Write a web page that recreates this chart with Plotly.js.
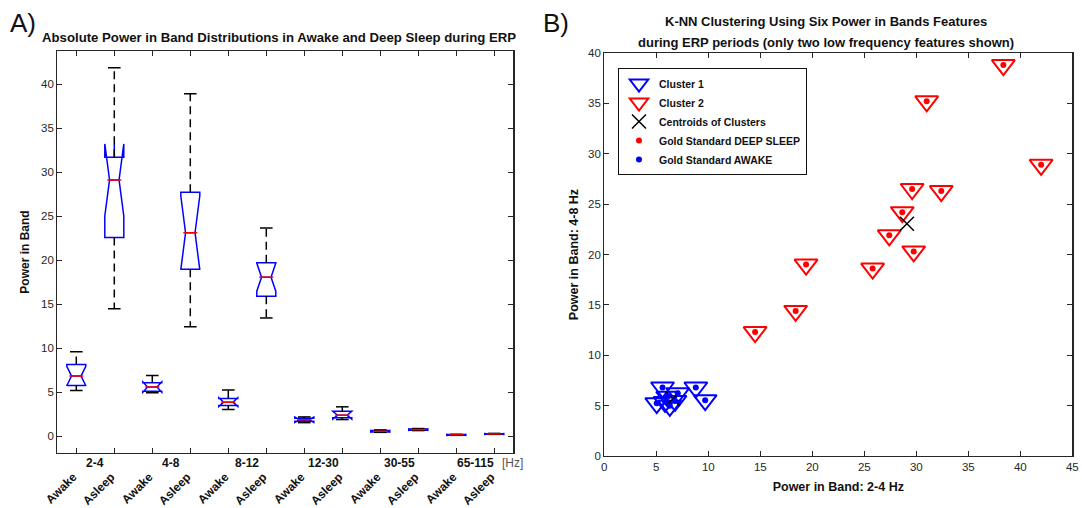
<!DOCTYPE html>
<html><head><meta charset="utf-8">
<script src="https://cdn.plot.ly/plotly-3.0.1.min.js"></script>
<style>html,body{margin:0;padding:0;background:#fff}#plot{width:1082px;height:508px}</style>
</head><body><div id="plot"></div>
<script>
// ---- Panel A data: box statistics per category ----
const bands = ['2-4', '4-8', '8-12', '12-30', '30-55', '65-115'];
const states = ['Awake', 'Asleep'];
const q1 =        [5.78, 22.6, 5.13, 19.0, 3.50, 15.92, 1.70, 2.10, 0.50, 0.70, 0.13, 0.24];
const medians =   [6.84, 29.14, 5.59, 23.14, 3.88, 18.09, 1.88, 2.40, 0.57, 0.76, 0.16, 0.27];
const q3 =        [8.17, 31.72, 6.08, 27.74, 4.30, 19.72, 2.05, 2.85, 0.65, 0.82, 0.19, 0.30];
const lowerWhisk =[5.21, 14.5, 4.94, 12.46, 3.04, 13.45, 1.55, 1.90, 0.45, 0.65, 0.11, 0.22];
const upperWhisk =[9.62, 41.9, 6.92, 38.94, 5.25, 23.67, 2.20, 3.35, 0.72, 0.88, 0.22, 0.33];
const notchSpan = [1.1, 4.1, 0.6, 4.2, 0.5, 1.6, 0.3, 0.45, 0.1, 0.08, 0.05, 0.05];

// ---- Panel B data ----
const awakeX = [5.6, 8.8, 7.06, 9.7, 5.04, 5.84, 6.3, 6.8, 6.1];
const awakeY = [6.8, 6.8, 6.24, 5.54, 5.24, 5.37, 4.98, 5.47, 5.87];
const sleepX = [38.37, 31.0, 42.0, 29.6, 32.4, 28.65, 27.4, 29.75, 19.4, 25.8, 14.5, 18.4];
const sleepY = [38.8, 35.2, 28.9, 26.5, 26.3, 24.2, 21.9, 20.3, 19.0, 18.6, 12.3, 14.4];
const centroidX = [6.6, 29.1];
const centroidY = [5.67, 23.05];

const W = 1082, H = 508;
const px = v => v / W, py = v => 1 - v / H;
const FONT = 'Liberation Sans, Arial, Helvetica, sans-serif';
const AX = '#262626';

const positions = q1.map((_, i) => i + 1);
const tickText = [];
bands.forEach(() => states.forEach(s => tickText.push(s)));

const wx = [], wy = [], capX = [], capY = [];
positions.forEach((p, i) => {
  wx.push(p, p, null, p, p, null);
  wy.push(q3[i], upperWhisk[i], null, q1[i], lowerWhisk[i], null);
  capX.push(p, p); capY.push(upperWhisk[i], lowerWhisk[i]);
});

const traces = [
  { type: 'scatter', mode: 'lines', x: wx, y: wy, xaxis: 'x', yaxis: 'y', showlegend: false,
    line: { color: '#000', width: 1.5, dash: '8px,5px' }, hoverinfo: 'skip' },
  { type: 'scatter', mode: 'markers', x: capX, y: capY, xaxis: 'x', yaxis: 'y', showlegend: false,
    marker: { symbol: 'line-ew', size: 9, line: { color: '#000', width: 1.5 } }, hoverinfo: 'skip' },
  { type: 'box', x: positions, q1: q1, median: medians, q3: q3, lowerfence: q1, upperfence: q3,
    notchspan: notchSpan, notched: true, notchwidth: 0.25, width: 0.5, whiskerwidth: 0,
    boxpoints: false, xaxis: 'x', yaxis: 'y', showlegend: false,
    line: { color: '#0000ff', width: 1.5 }, fillcolor: 'rgba(0,0,0,0)' },
  { type: 'scatter', mode: 'markers', x: positions, y: medians, xaxis: 'x', yaxis: 'y', showlegend: false,
    marker: { symbol: 'line-ew', size: 10, line: { color: '#ff0000', width: 1.5 } }, hoverinfo: 'skip' },

  { type: 'scatter', mode: 'markers', name: 'Cluster 1', x: awakeX, y: awakeY, xaxis: 'x2', yaxis: 'y2',
    marker: { symbol: 'triangle-down-open', size: 20, color: '#0000ff', line: { width: 2, color: '#0000ff' } } },
  { type: 'scatter', mode: 'markers', name: 'Cluster 2', x: sleepX, y: sleepY, xaxis: 'x2', yaxis: 'y2',
    marker: { symbol: 'triangle-down-open', size: 20, color: '#ff0000', line: { width: 2, color: '#ff0000' } } },
  { type: 'scatter', mode: 'markers', name: 'Centroids of Clusters', x: centroidX, y: centroidY, xaxis: 'x2', yaxis: 'y2',
    marker: { symbol: 'x-thin-open', size: 14, color: '#000', line: { width: 1.5, color: '#000' } } },
  { type: 'scatter', mode: 'markers', name: 'Gold Standard DEEP SLEEP', x: sleepX, y: sleepY, xaxis: 'x2', yaxis: 'y2',
    marker: { symbol: 'circle', size: 6, color: '#ff0000' } },
  { type: 'scatter', mode: 'markers', name: 'Gold Standard AWAKE', x: awakeX, y: awakeY, xaxis: 'x2', yaxis: 'y2',
    marker: { symbol: 'circle', size: 6, color: '#0000ff' } }
];

const axisBase = {
  showline: true, linecolor: AX, linewidth: 1.2, mirror: 'ticks', ticks: 'inside', ticklen: 5,
  tickcolor: AX, tickwidth: 1.2, showgrid: false, zeroline: false,
  tickfont: { family: FONT, size: 11.5, color: AX }
};

const annotations = [
  { text: 'A)', x: px(8), y: py(23), xref: 'paper', yref: 'paper', xanchor: 'left', yanchor: 'middle',
    showarrow: false, font: { family: FONT, size: 26, color: '#111' } },
  { text: 'B)', x: px(541), y: py(23), xref: 'paper', yref: 'paper', xanchor: 'left', yanchor: 'middle',
    showarrow: false, font: { family: FONT, size: 26, color: '#111' } },
  { text: 'Absolute Power in Band Distributions in Awake and Deep Sleep during ERP', x: px(279), y: py(38),
    xref: 'paper', yref: 'paper', xanchor: 'center', yanchor: 'middle', showarrow: false,
    font: { family: FONT, size: 13.2, color: '#111', weight: 'bold' } },
  { text: 'K-NN Clustering Using Six Power in Bands Features', x: px(826), y: py(21),
    xref: 'paper', yref: 'paper', xanchor: 'center', yanchor: 'middle', showarrow: false,
    font: { family: FONT, size: 13, color: '#111', weight: 'bold' } },
  { text: 'during ERP periods (only two low frequency features shown)', x: px(826), y: py(42.5),
    xref: 'paper', yref: 'paper', xanchor: 'center', yanchor: 'middle', showarrow: false,
    font: { family: FONT, size: 13, color: '#111', weight: 'bold' } },
  { text: '[Hz]', x: px(512), y: py(463), xref: 'paper', yref: 'paper', xanchor: 'center', yanchor: 'middle',
    showarrow: false, font: { family: FONT, size: 12, color: '#555' } }
];
bands.forEach((b, i) => {
  annotations.push({ text: b, x: 2 * i + 1.5, xref: 'x', y: py(463), yref: 'paper', xanchor: 'center',
    yanchor: 'middle', showarrow: false, font: { family: FONT, size: 12, color: '#111', weight: 'bold' } });
});

const layout = {
  width: W, height: H, margin: { l: 0, r: 0, t: 0, b: 0 }, paper_bgcolor: '#fff', plot_bgcolor: '#fff',
  font: { family: FONT, color: AX },
  xaxis: Object.assign({}, axisBase, {
    domain: [px(57.3), px(513.3)], range: [0.5, 12.5], tickvals: positions, ticktext: tickText,
    tickangle: -45, ticklabelstandoff: 11, ticklabelshift: -3, anchor: 'y',
    tickfont: { family: FONT, size: 12, color: '#111', weight: 'bold' }
  }),
  yaxis: Object.assign({}, axisBase, {
    domain: [py(453), py(51)], range: [-1.9, 43.8], tickvals: [0, 5, 10, 15, 20, 25, 30, 35, 40], anchor: 'x',
    title: { text: 'Power in Band', font: { family: FONT, size: 12, color: '#111', weight: 'bold' }, standoff: 8 }
  }),
  xaxis2: Object.assign({}, axisBase, {
    domain: [px(604.3), px(1072.3)], range: [0, 45], dtick: 5, anchor: 'y2',
    title: { text: 'Power in Band: 2-4 Hz', font: { family: FONT, size: 12.5, color: '#111', weight: 'bold' }, standoff: 10 }
  }),
  yaxis2: Object.assign({}, axisBase, {
    domain: [py(456), py(53)], range: [0, 40], dtick: 5, anchor: 'x2',
    title: { text: 'Power in Band: 4-8 Hz', font: { family: FONT, size: 12.5, color: '#111', weight: 'bold' }, standoff: 6 }
  }),
  showlegend: true,
  legend: { x: px(618), y: py(68), xanchor: 'left', yanchor: 'top', bgcolor: '#fff', bordercolor: '#111',
    borderwidth: 1, font: { family: FONT, size: 10.5, color: '#111', weight: 'bold' }, itemsizing: 'trace' },
  annotations: annotations
};

Plotly.newPlot('plot', traces, layout, { displayModeBar: false, staticPlot: true });
</script></body></html>
